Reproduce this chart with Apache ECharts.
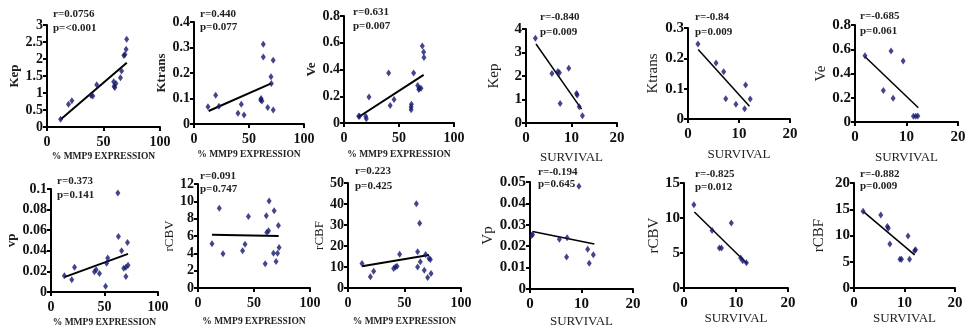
<!DOCTYPE html>
<html>
<head>
<meta charset="utf-8">
<script src="https://cdn.jsdelivr.net/npm/echarts@6/dist/echarts.min.js"></script>
<style>
  html, body { margin: 0; padding: 0; background: #fff; }
  #chart { width: 975px; height: 328px; }
</style>
</head>
<body>
<div id="chart"></div>
<script>
// --- data ---
// % MMP9 expression panels
const mmpKepX = [12, 19, 22, 39, 40.5, 44, 59, 59.4, 60, 61, 65, 66, 68, 69, 70, 70.5];
const mmpKepY = [0.23, 0.67, 0.77, 0.93, 0.91, 1.24, 1.33, 1.2, 1.16, 1.28, 1.45, 1.65, 2.1, 2.13, 2.29, 2.58];
const mmpKepFit = [[12, 0.22], [70.6, 1.89]];

const mmpKtransX = [12.7, 19.7, 22.7, 40, 43, 45.5, 60.6, 61, 61.8, 63, 63, 67, 70, 70.3, 72, 72];
const mmpKtransY = [0.068, 0.113, 0.07, 0.042, 0.077, 0.035, 0.094, 0.1, 0.09, 0.313, 0.263, 0.065, 0.185, 0.159, 0.25, 0.055];
const mmpKtransFit = [[13.3, 0.051], [70.3, 0.159]];

const mmpVeX = [13.3, 14.2, 19.7, 20.3, 22.7, 40.6, 42, 45.5, 61, 61, 61.3, 63.3, 67, 68.5, 70, 68, 71.2, 72.4, 72.7];
const mmpVeY = [0.05, 0.05, 0.05, 0.032, 0.194, 0.374, 0.13, 0.175, 0.1, 0.12, 0.14, 0.374, 0.28, 0.26, 0.26, 0.25, 0.576, 0.53, 0.49];
const mmpVeFit = [[13.3, 0.045], [72.4, 0.36]];

const mmpVpX = [12.5, 19.4, 22, 40.6, 42.2, 45.3, 51, 52, 53, 62.5, 63, 66, 68, 70, 72, 70, 71.5];
const mmpVpY = [0.0158, 0.012, 0.024, 0.0197, 0.0216, 0.018, 0.0055, 0.028, 0.033, 0.096, 0.054, 0.04, 0.023, 0.024, 0.026, 0.015, 0.048];
const mmpVpFit = [[12.5, 0.0145], [72, 0.037]];

const mmpCbvX = [12.5, 19, 22.3, 39.8, 42, 45, 60, 61, 61.4, 63, 63.5, 68, 67.4, 69.7, 71, 71.8, 72.4];
const mmpCbvY = [5.1, 9.2, 3.95, 4.3, 5.05, 8.25, 2.8, 8.35, 6.4, 6.6, 10.05, 8.9, 4.0, 3.07, 4.0, 7.2, 4.67];
const mmpCbvFit = [[12.5, 6.15], [72, 6.0]];

const mmpCbfX = [12.4, 19.8, 22.7, 40.4, 41.9, 43.4, 45.7, 60.5, 61.6, 61.6, 63.4, 64, 67.5, 68.7, 70.5, 71.7, 72.9, 73.5];
const mmpCbfY = [11.7, 5.3, 8, 9.3, 10, 10.4, 16.1, 40.1, 17.3, 10, 30.8, 12.5, 8.5, 16, 5, 14, 13.6, 6.9];
const mmpCbfFit = [[12.4, 10.4], [71.7, 15.7]];

// survival panels
const survKepX = [2.06, 5.7, 7, 7.35, 7.5, 9.4, 11.1, 11.25, 11.7, 12.4];
const survKepY = [3.61, 2.11, 2.19, 2.14, 0.83, 2.33, 1.26, 1.19, 0.69, 0.31];
const survKepFit = [[2.2, 3.36], [12.2, 0.59]];

const survKtransX = [1.95, 5.5, 7, 7.4, 9.4, 11.1, 11.3, 12.2];
const survKtransY = [0.247, 0.185, 0.156, 0.067, 0.049, 0.034, 0.112, 0.066];
const survKtransFit = [[2, 0.229], [12.05, 0.042]];

const survVeX = [1.94, 5.5, 7, 7.4, 9.35, 11.35, 11.8, 12.2];
const survVeY = [0.547, 0.26, 0.585, 0.195, 0.503, 0.047, 0.048, 0.05];
const survVeFit = [[1.9, 0.54], [12.3, 0.118]];

const survVpX = [0.3, 0.5, 5.7, 7.2, 7.1, 9.5, 11.2, 11.5, 12.3];
const survVpY = [0.025, 0.0255, 0.0233, 0.024, 0.015, 0.048, 0.0186, 0.012, 0.016];
const survVpFit = [[0.5, 0.0269], [12.5, 0.021]];

const survCbvX = [1.9, 5.4, 6.8, 7.2, 9.1, 10.9, 11.3, 12];
const survCbvY = [11.9, 8.2, 5.7, 5.7, 9.3, 4.3, 3.9, 3.6];
const survCbvFit = [[2, 10.86], [12.1, 3.5]];

const survCbfX = [1.8, 5.3, 6.6, 6.8, 7.1, 9.1, 9.4, 10.7, 11, 12, 12.2];
const survCbfY = [14.6, 13.9, 11.7, 11.4, 8.4, 5.5, 5.5, 9.9, 5.5, 7.1, 7.3];
const survCbfFit = [[1.8, 14.6], [12, 6.3]];

// tick ranges
const mmpTicks = [0, 50, 100];
const survTicks = [0, 10, 20];

const rTexts = ['r=0.0756', 'r=0.440', 'r=0.631', 'r=-0.840', 'r=-0.84', 'r=-0.685',
                'r=0.373', 'r=0.091', 'r=0.223', 'r=-0.194', 'r=-0.825', 'r=-0.882'];
const pTexts = ['p=<0.001', 'p=0.077', 'p=0.007', 'p=0.009', 'p=0.009', 'p=0.061',
                'p=0.141', 'p=0.747', 'p=0.425', 'p=0.645', 'p=0.012', 'p=0.009'];

// --- layout ---
const SERIF = "'Liberation Serif', 'DejaVu Serif', serif";
const panels = [
  { x: mmpKepX, y: mmpKepY, fit: mmpKepFit, yName: 'Kep', yMax: 3, yStep: 0.5, surv: false,
    grid: [47, 25, 113, 102], yGap: 23, xGap: 25, txt: [53, 15, 29] },
  { x: mmpKtransX, y: mmpKtransY, fit: mmpKtransFit, yName: 'Ktrans', yMax: 0.4, yStep: 0.1, surv: false,
    grid: [194, 22, 110, 102], yGap: 21, xGap: 26, txt: [200, 15, 28] },
  { x: mmpVeX, y: mmpVeY, fit: mmpVeFit, yName: 'Ve', yMax: 0.8, yStep: 0.2, surv: false,
    grid: [344, 16, 110, 107], yGap: 19, xGap: 27, txt: [353, 13, 27] },
  { x: survKepX, y: survKepY, fit: survKepFit, yName: 'Kep', yMax: 4, yStep: 1, surv: true,
    grid: [526, 29, 91, 94], yGap: 24, xGap: 28, txt: [540, 18, 33] },
  { x: survKtransX, y: survKtransY, fit: survKtransFit, yName: 'Ktrans', yMax: 0.3, yStep: 0.1, surv: true,
    grid: [688, 28, 102, 91], yGap: 27, xGap: 29, txt: [695, 18, 33] },
  { x: survVeX, y: survVeY, fit: survVeFit, yName: 'Ve', yMax: 0.8, yStep: 0.2, surv: true,
    grid: [855, 25, 103, 97], yGap: 26, xGap: 29, txt: [860, 17, 32] },
  { x: mmpVpX, y: mmpVpY, fit: mmpVpFit, yName: 'vp', yMax: 0.1, yStep: 0.02, surv: false,
    grid: [51, 189, 107, 103], yGap: 31, xGap: 26, txt: [57, 182, 196] },
  { x: mmpCbvX, y: mmpCbvY, fit: mmpCbvFit, yName: 'rCBV', yMax: 12, yStep: 2, surv: false,
    grid: [198, 184, 112, 104], yGap: 17, xGap: 29, txt: [200, 177, 190], yNormal: true },
  { x: mmpCbfX, y: mmpCbfY, fit: mmpCbfFit, yName: 'rCBF', yMax: 50, yStep: 10, surv: false,
    grid: [348, 183, 113, 105], yGap: 17, xGap: 29, txt: [355, 172, 187], yNormal: true },
  { x: survVpX, y: survVpY, fit: survVpFit, yName: 'Vp', yMax: 0.05, yStep: 0.01, surv: true,
    grid: [530, 182, 103, 107], yGap: 33, xGap: 26, txt: [538, 173, 185] },
  { x: survCbvX, y: survCbvY, fit: survCbvFit, yName: 'rCBV', yMax: 15, yStep: 5, surv: true,
    grid: [684, 183, 104, 105], yGap: 18, xGap: 24, txt: [695, 175, 188] },
  { x: survCbfX, y: survCbfY, fit: survCbfFit, yName: 'rCBF', yMax: 20, yStep: 5, surv: true,
    grid: [854, 183, 101, 105], yGap: 27, xGap: 23, txt: [860, 175, 187] }
];

const grid = [], xAxis = [], yAxis = [], series = [], graphic = [];
const axisLine = { show: true, onZero: false, lineStyle: { color: '#000', width: 2 } };
const axisTick = { show: true, inside: false, length: 4, lineStyle: { color: '#000', width: 2 } };

panels.forEach((p, i) => {
  const [l, t, w, h] = p.grid;
  grid.push({ left: l, top: t, width: w, height: h, containLabel: false, outerBoundsMode: 'none' });
  const ticks = p.surv ? survTicks : mmpTicks;
  const tickSize = p.surv ? 15 : 14;
  xAxis.push({
    gridIndex: i, type: 'value', min: ticks[0], max: ticks[ticks.length - 1],
    interval: ticks[1] - ticks[0],
    name: p.surv ? 'SURVIVAL' : '% MMP9 EXPRESSION',
    nameLocation: 'middle', nameGap: p.xGap,
    nameTextStyle: p.surv
      ? { fontFamily: SERIF, fontSize: 13, color: '#222' }
      : { fontFamily: SERIF, fontSize: 9.5, fontWeight: 'bold', color: '#222' },
    axisLine, axisTick, splitLine: { show: false },
    axisLabel: { fontFamily: SERIF, fontWeight: 'bold', fontSize: tickSize, color: '#111', margin: 8 }
  });
  yAxis.push({
    gridIndex: i, type: 'value', min: 0, max: p.yMax, interval: p.yStep,
    name: p.yName, nameLocation: 'middle', nameGap: p.yGap, nameRotate: 90,
    nameTextStyle: {
      fontFamily: SERIF, fontSize: p.surv ? 15 : 13,
      fontWeight: (p.surv || p.yNormal) ? 'normal' : 'bold', color: '#222'
    },
    axisLine, axisTick, splitLine: { show: false },
    axisLabel: { fontFamily: SERIF, fontWeight: 'bold', fontSize: tickSize, color: '#111', margin: 4 }
  });
  series.push({
    type: 'scatter', xAxisIndex: i, yAxisIndex: i,
    data: p.x.map((v, k) => [v, p.y[k]]),
    symbol: 'diamond', symbolSize: [5, 7],
    itemStyle: { color: '#16166e' }, z: 3
  });
  series.push({
    type: 'line', xAxisIndex: i, yAxisIndex: i, data: p.fit,
    symbol: 'none', lineStyle: { color: '#000', width: p.surv ? 1.5 : 2 }, z: 2
  });
  const [tx, ry, py] = p.txt;
  const font = "bold 11px " + SERIF;
  graphic.push({ type: 'text', left: tx, top: ry - 6, style: { text: rTexts[i], font, fill: '#222' } });
  graphic.push({ type: 'text', left: tx, top: py - 6, style: { text: pTexts[i], font, fill: '#222' } });
});

const chart = echarts.init(document.getElementById('chart'), null, { renderer: 'canvas' });
chart.setOption({
  animation: false,
  backgroundColor: '#fff',
  grid, xAxis, yAxis, series, graphic
});
</script>
</body>
</html>
